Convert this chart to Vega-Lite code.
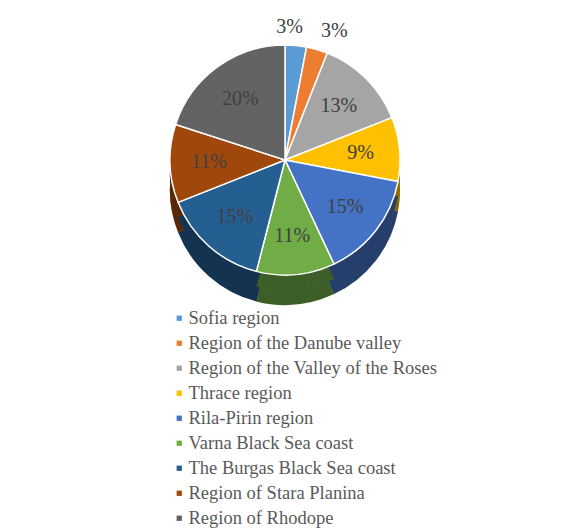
{
  "$schema": "https://vega.github.io/schema/vega-lite/v6.json",
  "width": 570,
  "height": 320,
  "padding": 0,
  "background": "white",
  "view": {"stroke": null},
  "data": {
    "values": [
      {"idx": 1, "region": "Sofia region", "share": 0.03},
      {"idx": 2, "region": "Region of the Danube valley", "share": 0.03},
      {"idx": 3, "region": "Region of the Valley of the Roses", "share": 0.13},
      {"idx": 4, "region": "Thrace region", "share": 0.09},
      {"idx": 5, "region": "Rila-Pirin region", "share": 0.15},
      {"idx": 6, "region": "Varna Black Sea coast", "share": 0.11},
      {"idx": 7, "region": "The Burgas Black Sea coast", "share": 0.15},
      {"idx": 8, "region": "Region of Stara Planina", "share": 0.11},
      {"idx": 9, "region": "Region of Rhodope", "share": 0.20}
    ]
  },
  "encoding": {
    "theta": {"field": "share", "type": "quantitative", "stack": true},
    "order": {"field": "idx", "type": "quantitative"}
  },
  "layer": [
    {
      "mark": {"type": "arc", "outerRadius": 115, "yOffset": 30},
      "encoding": {
        "color": {
          "field": "region", "type": "nominal",
          "scale": {
            "domain": ["Sofia region", "Region of the Danube valley", "Region of the Valley of the Roses", "Thrace region", "Rila-Pirin region", "Varna Black Sea coast", "The Burgas Black Sea coast", "Region of Stara Planina", "Region of Rhodope"],
            "range": ["#5B9BD5", "#ED7D31", "#A5A5A5", "#FFC000", "#4472C4", "#70AD47", "#255E91", "#9E480E", "#636363"]
          },
          "legend": {"title": null, "orient": "none", "legendX": 170, "legendY": 309, "symbolType": "square", "symbolSize": 28, "symbolStrokeWidth": 0, "labelFont": "Liberation Serif", "labelFontSize": 18.5, "labelColor": "#595959", "labelLimit": 400, "rowPadding": 6, "labelOffset": 0}
        }
      }
    },
    {
      "mark": {"type": "arc", "outerRadius": 115, "yOffset": 30, "fill": "black", "fillOpacity": 0.45}
    },
    {
      "mark": {"type": "arc", "outerRadius": 115, "yOffset": 15},
      "encoding": {
        "color": {
          "field": "region", "type": "nominal",
          "scale": {
            "domain": ["Sofia region", "Region of the Danube valley", "Region of the Valley of the Roses", "Thrace region", "Rila-Pirin region", "Varna Black Sea coast", "The Burgas Black Sea coast", "Region of Stara Planina", "Region of Rhodope"],
            "range": ["#5B9BD5", "#ED7D31", "#A5A5A5", "#FFC000", "#4472C4", "#70AD47", "#255E91", "#9E480E", "#636363"]
          },
          "legend": {"title": null, "orient": "none", "legendX": 170, "legendY": 309, "symbolType": "square", "symbolSize": 28, "symbolStrokeWidth": 0, "labelFont": "Liberation Serif", "labelFontSize": 18.5, "labelColor": "#595959", "labelLimit": 400, "rowPadding": 6, "labelOffset": 0}
        }
      }
    },
    {
      "mark": {"type": "arc", "outerRadius": 115, "yOffset": 15, "fill": "black", "fillOpacity": 0.45}
    },
    {
      "mark": {"type": "arc", "outerRadius": 115, "stroke": "white", "strokeWidth": 1.5},
      "encoding": {
        "color": {
          "field": "region", "type": "nominal",
          "scale": {
            "domain": ["Sofia region", "Region of the Danube valley", "Region of the Valley of the Roses", "Thrace region", "Rila-Pirin region", "Varna Black Sea coast", "The Burgas Black Sea coast", "Region of Stara Planina", "Region of Rhodope"],
            "range": ["#5B9BD5", "#ED7D31", "#A5A5A5", "#FFC000", "#4472C4", "#70AD47", "#255E91", "#9E480E", "#636363"]
          },
          "legend": {"title": null, "orient": "none", "legendX": 170, "legendY": 309, "symbolType": "square", "symbolSize": 28, "symbolStrokeWidth": 0, "labelFont": "Liberation Serif", "labelFontSize": 18.5, "labelColor": "#595959", "labelLimit": 400, "rowPadding": 6, "labelOffset": 0}
        }
      }
    },
    {
      "mark": {"type": "text", "radius": 76, "font": "Liberation Serif", "fontSize": 20, "color": "#404040"},
      "encoding": {
        "text": {"condition": {"test": "datum.share >= 0.05", "field": "share", "type": "quantitative", "format": ".0%"}, "value": ""}
      }
    },
    {
      "mark": {"type": "text", "radius": 134, "dx": -8, "font": "Liberation Serif", "fontSize": 20, "color": "#404040"},
      "encoding": {
        "text": {"condition": {"test": "datum.idx == 1", "field": "share", "type": "quantitative", "format": ".0%"}, "value": ""}
      }
    },
    {
      "mark": {"type": "text", "radius": 134, "dx": 12, "font": "Liberation Serif", "fontSize": 20, "color": "#404040"},
      "encoding": {
        "text": {"condition": {"test": "datum.idx == 2", "field": "share", "type": "quantitative", "format": ".0%"}, "value": ""}
      }
    }
  ]
}
